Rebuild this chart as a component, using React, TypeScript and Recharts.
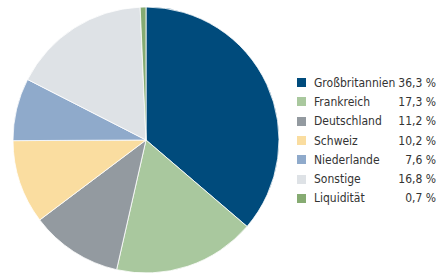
import React from "react";
import { PieChart, Pie, Cell, Legend } from "recharts";

const categories = ["Großbritannien", "Frankreich", "Deutschland", "Schweiz", "Niederlande", "Sonstige", "Liquidität"];
const values = [36.3, 17.3, 11.2, 10.2, 7.6, 16.8, 0.7];
const labels = ["36,3 %", "17,3 %", "11,2 %", "10,2 %", "7,6 %", "16,8 %", "0,7 %"];
const colors = ["#004B7C", "#A9C89E", "#939AA0", "#FADDA0", "#8FAACB", "#DEE2E6", "#86AB72"];

const data = categories.map((name, i) => ({ name, value: values[i], label: labels[i], color: colors[i] }));

const FONT = "'Liberation Sans Narrow', 'DejaVu Sans Condensed', 'Liberation Sans', sans-serif";

const LegendContent = () => (
  <div style={{ fontFamily: FONT, fontSize: 12, color: "#333", whiteSpace: "nowrap" }}>
    {data.map((d) => (
      <div key={d.name} style={{ display: "flex", alignItems: "center", height: 19.3, width: 139 }}>
        <div style={{ width: 9, height: 9, background: d.color, marginRight: 8, flexShrink: 0 }} />
        <div style={{ flex: 1 }}>{d.name}</div>
        <div style={{ textAlign: "right", marginLeft: 3 }}>{d.label}</div>
      </div>
    ))}
  </div>
);

export default function App() {
  return (
    <div style={{ position: "absolute", left: 0, top: 0, width: 437, height: 274, background: "#fff" }}>
      <PieChart width={437} height={274} margin={{ top: 0, right: 0, bottom: 0, left: 0 }}>
        <Pie
          data={data}
          dataKey="value"
          nameKey="name"
          cx={146}
          cy={140}
          outerRadius={133}
          innerRadius={0}
          startAngle={90}
          endAngle={-270}
          stroke="#fff"
          strokeWidth={0.8}
          isAnimationActive={false}
        >
          {data.map((d) => (
            <Cell key={d.name} fill={d.color} />
          ))}
        </Pie>
        <Legend
          content={<LegendContent />}
          wrapperStyle={{ position: "absolute", left: 297, top: 73, width: 139 }}
        />
      </PieChart>
    </div>
  );
}
